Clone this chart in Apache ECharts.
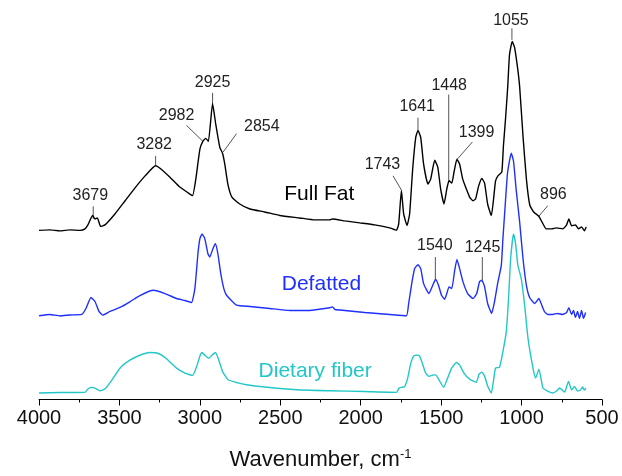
<!DOCTYPE html>
<html>
<head>
<meta charset="utf-8"/>
<title>FTIR spectra</title>
<script src="https://cdn.jsdelivr.net/npm/echarts@6/dist/echarts.min.js"></script>
<style>
html,body{margin:0;padding:0;background:#fff;}
#main{width:622px;height:476px;}
</style>
</head>
<body>
<div id="main"></div>
<script>
// each spectrum: [wavenumber (cm-1), height above its own baseline]
var fullFat = [
  [4000,0],[3932,0.5],[3870,-0.5],[3807,0.5],[3745,0],[3714,1.5],[3696,5.5],[3667,15],[3652,11.5],[3637,12.5],
  [3617,4],[3590,5.5],[3528,16.5],[3466,29.5],[3404,42.5],[3342,54.5],[3275,65],[3248,62.5],[3186,53.5],[3124,43.5],
  [3062,36.5],[3045,35],[3025,51.5],[3000,81.5],[2980,90],[2963,92.5],[2947,89.5],[2921,127.5],[2901,106.5],[2876,83.5],
  [2859,77.5],[2845,66.5],[2826,46.5],[2801,33.5],[2752,26.5],[2689,21.5],[2596,18.5],[2503,15],[2379,12.5],[2286,10.5],
  [2193,10.5],[2175,11.5],[2099,9.5],[2006,7.5],[1913,5.5],[1820,2.5],[1778,0],[1764,6.5],[1747,40],[1733,16.5],
  [1712,5],[1696,16.5],[1677,61.5],[1658,93.5],[1644,100.5],[1627,93.5],[1609,66.5],[1582,46.5],[1565,51.5],[1540,70.5],
  [1521,63.5],[1503,41.5],[1482,26.5],[1465,41.5],[1451,49.8],[1434,47.5],[1419,59.5],[1402,71.5],[1385,66.5],[1366,51.5],
  [1343,41.5],[1323,33.5],[1302,29.8],[1286,31.5],[1267,44.5],[1247,52.2],[1230,47.5],[1211,26.5],[1188,14.8],[1174,31.5],
  [1162,49.5],[1147,54.8],[1123,58.5],[1113,84.5],[1100,111.5],[1086,144.5],[1075,176.5],[1058,189.8],[1043,183.5],[1025,163.5],
  [1012,144.5],[991,94.5],[970,51.5],[949,25.5],[925,18.5],[893,14.2],[870,7.5],[847,1.5],[814,1.5],[783,2.5],
  [743,1.5],[720,5.5],[706,11.5],[689,4.5],[665,5.5],[646,1.5],[627,3.5],[609,-0.5],[598,3.5]
];
var defatted = [
  [4000,-0.3],[3932,1],[3870,-0.5],[3807,0.5],[3735,1],[3708,7],[3677,18],[3652,14],[3627,4],[3604,0.3],
  [3559,4],[3497,8],[3435,13.7],[3373,20],[3290,25.3],[3217,22],[3145,17],[3093,15],[3052,13],[3031,27],
  [3012,62],[3000,77],[2986,82],[2969,77],[2950,62],[2938,58.7],[2919,67],[2903,72],[2888,62],[2870,42],
  [2851,27],[2834,20.3],[2772,10.3],[2689,9],[2565,7],[2441,5],[2317,5],[2193,7.7],[2175,8.5],[2160,6],
  [2099,5],[1975,3],[1820,1],[1716,-0.3],[1702,12],[1683,32],[1665,47],[1644,51],[1627,47],[1609,32],
  [1576,22],[1553,30],[1534,36.3],[1516,30],[1497,20],[1478,16.3],[1463,23],[1451,28.7],[1434,27],[1416,45],
  [1402,56.3],[1385,47],[1364,33.7],[1335,22],[1302,17],[1279,22],[1261,34],[1247,35.3],[1230,29],[1211,12],
  [1186,2],[1168,14],[1147,33.7],[1126,50.3],[1116,77],[1102,110.3],[1087,143.7],[1064,163],[1050,155],[1034,127],
  [1012,94],[991,57],[970,30.3],[949,17.7],[918,12],[893,17],[876,11],[857,3.7],[837,1],[807,1],
  [776,2],[745,1],[720,3],[706,7.7],[689,1],[677,5],[665,-2],[652,4],[640,-3],[627,5],
  [615,-3],[602,3]
];
var fiber = [
  [4000,-0.5],[3870,0],[3714,0.2],[3696,3.5],[3677,5.2],[3652,4.5],[3621,1.8],[3590,3.5],[3547,12.5],[3497,24.5],
  [3435,32.5],[3373,37.5],[3311,40.2],[3261,39.5],[3211,34.5],[3145,24.5],[3093,19.5],[3045,17.2],[3019,26.5],[3000,36.5],
  [2986,40.2],[2969,37.5],[2944,34.5],[2925,37.5],[2903,40.2],[2882,32.5],[2857,20.5],[2824,12.8],[2770,10],[2710,7.8],
  [2596,5.5],[2399,2.8],[2193,1.8],[1975,1],[1778,0.2],[1761,4.5],[1747,5.2],[1727,6],[1708,14.5],[1690,28.5],
  [1671,36.5],[1650,37.8],[1634,36.5],[1615,28.5],[1596,19.5],[1575,16.2],[1553,17.5],[1534,17.8],[1516,13.5],[1485,5.2],
  [1460,14.5],[1435,24.5],[1405,30.2],[1385,27.5],[1354,18.5],[1323,13.5],[1282,10.2],[1264,18.5],[1247,20.5],[1230,16.5],
  [1211,6.5],[1188,-0.5],[1174,12.5],[1162,24.5],[1137,25.5],[1116,41.2],[1095,61.2],[1081,94.5],[1068,134.5],[1050,159.5],
  [1037,149.5],[1023,127.8],[1002,114.5],[981,87.8],[960,54.5],[929,24.5],[913,14.5],[892,23.5],[867,4.5],[838,1.5],
  [805,-0.5],[783,1.5],[764,4.5],[733,0.5],[708,11.2],[689,2.5],[671,6.2],[652,1.5],[634,2.5],[621,5.5],
  [609,2.5],[600,4.5]
];

var names = ['Full Fat', 'Defatted', 'Dietary fiber'];
var offsets = [170, 84.5, 7];

// peak annotations: text, text pos, leader line from / to (all in wavenumber / plot units)
var peaks = [
  ['3679', 3681, 204.8, 3663, 194.2, 3663, 181.5],
  ['3282', 3284, 256, 3275, 244.8, 3275, 234.8],
  ['2982', 3145, 285.3, 3083, 275.5, 2983, 259.8],
  ['2925', 2921, 318.2, 2921, 308.2, 2921, 297.5],
  ['2854', 2615, 274, 2772, 267.2, 2855, 248.8],
  ['1743', 1865, 235.7, 1799, 224.8, 1747, 210.5],
  ['1641', 1649, 294, 1644, 283.2, 1644, 270.5],
  ['1448', 1450, 315.7, 1453, 306.5, 1453, 219.8],
  ['1399', 1280, 268.7, 1306, 258.8, 1400, 241.5],
  ['1055', 1066, 380.7, 1060, 373.2, 1060, 361.5],
  ['896', 802, 205.7, 837, 194.8, 893, 184.2],
  ['1540', 1539, 154.8, 1536, 143.2, 1536, 120.8],
  ['1245', 1243, 152.7, 1244, 143.2, 1244, 119.8]
];
// series captions [wavenumber, plot units]
var captions = [[2258, 206.5], [2244, 116], [2283, 28.5]];

var colors = ['#000000', '#1f2fff', '#22c7c7'];
var font = 'Liberation Sans, Arial, Helvetica, sans-serif';

function shift(arr, off) {
  return arr.map(function (p) { return [p[0], p[1] + off]; });
}

var myChart = echarts.init(document.getElementById('main'));
var series = [fullFat, defatted, fiber].map(function (arr, i) {
  return {
    name: names[i],
    type: 'line',
    data: shift(arr, offsets[i]),
    showSymbol: false,
    smooth: 0.15,
    lineStyle: { color: colors[i], width: 1.4 },
    animation: false
  };
});

series.push({
  type: 'custom',
  data: peaks.map(function (p) { return [p[1], p[2]]; }),
  encode: { x: 0, y: 1 },
  clip: false,
  silent: true,
  animation: false,
  renderItem: function (params, api) {
    var p = peaks[params.dataIndex];
    var t = api.coord([p[1], p[2]]);
    var a = api.coord([p[3], p[4]]);
    var b = api.coord([p[5], p[6]]);
    return {
      type: 'group',
      children: [
        { type: 'line', shape: { x1: a[0], y1: a[1], x2: b[0], y2: b[1] }, style: { stroke: '#555', lineWidth: 1 } },
        { type: 'text', x: t[0], y: t[1], style: { text: p[0], fill: '#222', fontSize: 16, fontFamily: font, align: 'center', verticalAlign: 'middle' } }
      ]
    };
  }
});

series.push({
  type: 'custom',
  data: captions,
  encode: { x: 0, y: 1 },
  clip: false,
  silent: true,
  animation: false,
  renderItem: function (params, api) {
    var c = api.coord(captions[params.dataIndex]);
    return {
      type: 'text', x: c[0], y: c[1],
      style: { text: names[params.dataIndex], fill: params.dataIndex === 0 ? '#000' : colors[params.dataIndex], fontSize: 21, fontFamily: font, align: 'center', verticalAlign: 'middle' }
    };
  }
});

var option = {
  backgroundColor: '#fff',
  grid: { left: 39, right: 20, top: 10, bottom: 74.5 },
  xAxis: {
    type: 'value',
    inverse: true,
    min: 500,
    max: 4000,
    interval: 500,
    name: '{a|Wavenumber, cm}{s|-1}',
    nameLocation: 'middle',
    nameGap: 48,
    nameTextStyle: {
      rich: {
        a: { fontSize: 22, fontFamily: font, color: '#111' },
        s: { fontSize: 13, fontFamily: font, color: '#111', verticalAlign: 'top', padding: [0, 0, 12, 0] }
      }
    },
    axisLine: { lineStyle: { color: '#000', width: 1 } },
    axisTick: { inside: false, length: 6, lineStyle: { color: '#000' } },
    minorTick: { show: true, splitNumber: 2, length: 3, lineStyle: { color: '#000' } },
    axisLabel: { fontSize: 20, fontFamily: font, color: '#111', margin: 9, formatter: function (v) { return String(v); } },
    splitLine: { show: false }
  },
  yAxis: { type: 'value', min: 0, max: 391.5, show: false },
  series: series
};
myChart.setOption(option);
</script>
</body>
</html>
